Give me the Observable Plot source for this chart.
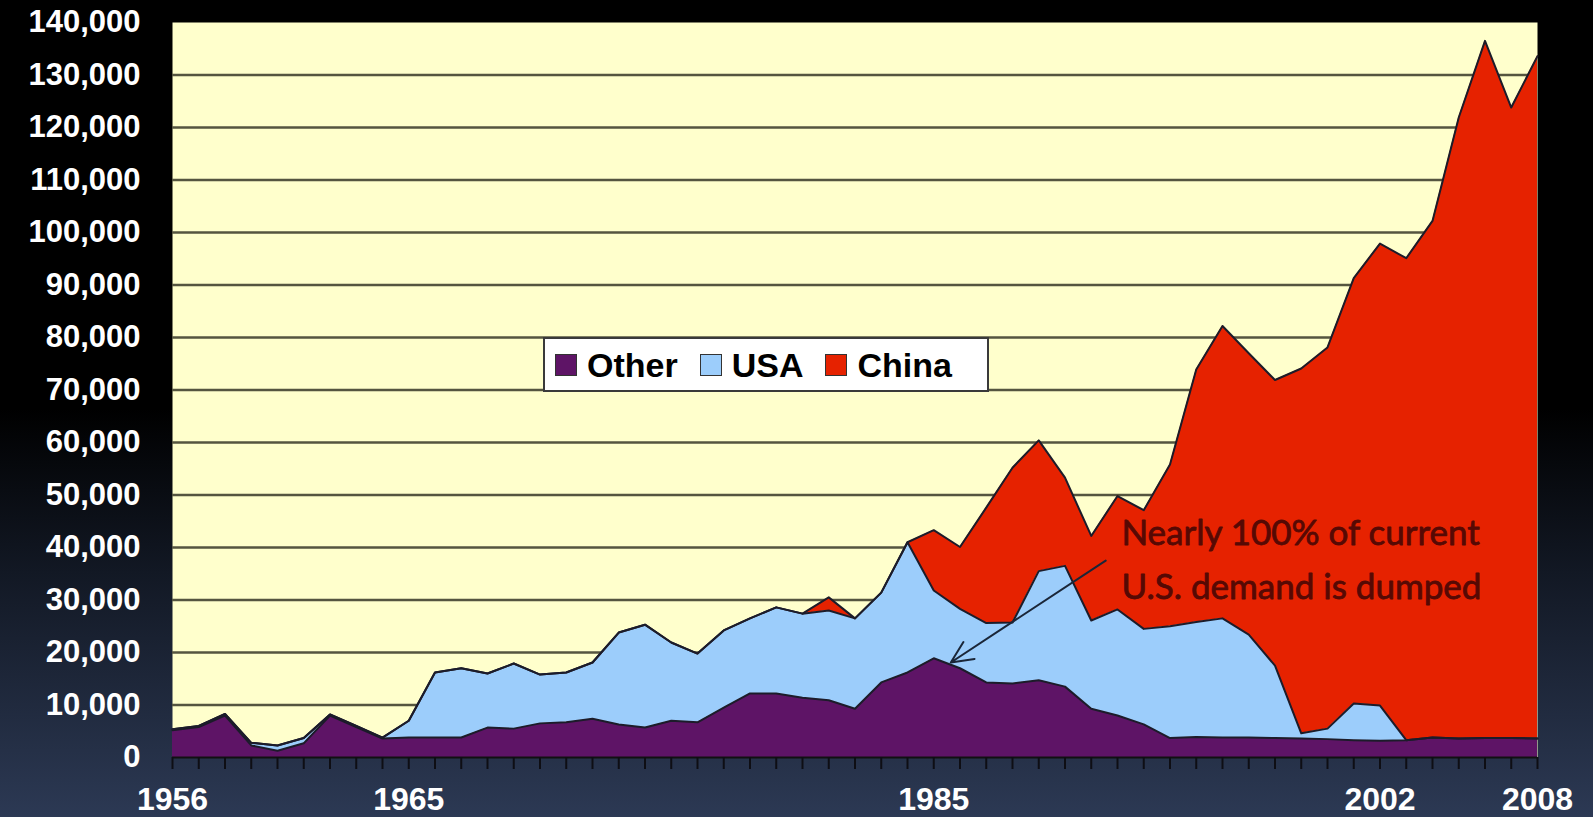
<!DOCTYPE html>
<html><head><meta charset="utf-8">
<script src="https://cdn.jsdelivr.net/npm/d3@7"></script>
<script src="https://cdn.jsdelivr.net/npm/@observablehq/plot@0.6"></script>
<style>
html,body{margin:0;padding:0;}
body{width:1593px;height:817px;overflow:hidden;position:relative;
  background:linear-gradient(to bottom,#000 0%,#000 50%,#121824 70%,#2c3954 100%);
  font-family:"Liberation Sans",Arial,sans-serif;}
#chart{position:absolute;left:0;top:0;}
#legend{position:absolute;left:543px;top:337px;width:432px;height:51px;background:#fff;border:2px solid #3a3a3a;
  display:flex;align-items:center;padding-left:10px;box-sizing:content-box;}
.item{display:flex;align-items:center;margin-right:22px;}
.sw{width:22px;height:22px;border:1px solid #333;box-sizing:border-box;margin-right:10px;}
.lab{font-weight:bold;font-size:34px;line-height:34px;color:#000;white-space:nowrap;}
</style></head><body>
<div id="chart"></div>
<div id="legend"></div>
<script>
const years = [1956,1957,1958,1959,1960,1961,1962,1963,1964,1965,1966,1967,1968,1969,1970,1971,1972,1973,1974,1975,
  1976,1977,1978,1979,1980,1981,1982,1983,1984,1985,1986,1987,1988,1989,1990,1991,1992,1993,1994,1995,
  1996,1997,1998,1999,2000,2001,2002,2003,2004,2005,2006,2007,2008];
const other = [5200,5800,8000,2300,1300,2700,8000,5800,3600,3800,3800,3800,5700,5500,6500,6700,7400,6300,5700,7000,
  6700,9500,12200,12200,11400,10900,9300,14300,16200,18900,17000,14300,14100,14700,13500,9300,8000,6300,3700,3900,
  3800,3800,3700,3600,3500,3300,3200,3300,3800,3600,3700,3700,3600];
const usa = [200,200,300,500,1000,1000,200,200,200,3200,12400,13200,10300,12400,9300,9500,10700,17500,19600,14900,
  13100,14700,14300,16400,16000,17100,17200,17100,24800,12900,11300,11300,11600,20800,23000,16800,20200,18200,21300,21900,
  22700,19600,13800,1000,2000,7000,6700,0,0,0,0,0,0];
const china = [0,0,0,0,0,0,0,0,0,0,0,0,0,0,0,0,0,0,0,0,
  0,0,0,0,0,2500,0,0,0,11500,11800,22000,29500,24900,16800,16100,21600,22600,30800,48100,
  55700,53600,54400,69500,72600,81000,88000,91800,98400,118300,132800,120100,130000];
const seriesNames = ["Other","USA","China"];
const seriesColors = ["#5e1466","#9ccdfb","#e62200"];
const yTicks = [0,10000,20000,30000,40000,50000,60000,70000,80000,90000,100000,110000,120000,130000,140000];
const xLabelYears = [1956,1965,1985,2002,2008];
const noteLines = ["Nearly 100% of current","U.S. demand is dumped"];
const noteYears = [1992.15,1992.15];
const noteValues = [40400,30100];
const arrowFrom = {year:1991.55, value:37500};
const arrowTo = {year:1985.65, value:18100};

const seriesValues = [other, usa, china];
const table = [];
seriesNames.forEach((s, k) => years.forEach((y, i) => table.push({year: y, series: s, value: seriesValues[k][i]})));
const notes = noteLines.map((t, i) => ({text: t, year: noteYears[i], value: noteValues[i]}));

const chart = Plot.plot({
  width: 1593, height: 817,
  marginLeft: 172, marginRight: 56, marginTop: 22, marginBottom: 60,
  style: {background: "transparent", overflow: "visible", fontFamily: "Liberation Sans, Arial, sans-serif"},
  x: {domain: [1956, 2008]},
  y: {domain: [0, 140000]},
  color: {domain: seriesNames, range: seriesColors},
  marks: [
    Plot.frame({fill: "#ffffcc", stroke: null}),
    Plot.ruleY(yTicks.filter(d => d > 0 && d < 140000), {stroke: "#55553f", strokeWidth: 2.5}),
    Plot.areaY(table, {x: "year", y: "value", z: "series", fill: "series", order: seriesNames}),
    Plot.lineY(table, Plot.stackY2({x: "year", y: "value", z: "series", order: seriesNames, stroke: "#1c1c2a", strokeWidth: 2})),
    Plot.ruleY([0], {stroke: "#111", strokeWidth: 2}),
    Plot.axisY(yTicks, {label: null, tickSize: 0, tickPadding: 32, tickFormat: d3.format(","), fill: "white", fontSize: 31, fontWeight: "bold", letterSpacing: 1.5}),
    Plot.axisX(years, {label: null, tickSize: 12, tickFormat: () => "", stroke: "#0e0e14", strokeWidth: 2}),
    Plot.axisX(xLabelYears, {label: null, tickSize: 0, tickPadding: 30, tickFormat: "d", fill: "white", fontSize: 32, fontWeight: "bold"}),
    Plot.arrow([{a: arrowFrom, b: arrowTo}], {x1: d => d.a.year, y1: d => d.a.value, x2: d => d.b.year, y2: d => d.b.value,
      stroke: "#1a2638", strokeWidth: 2, headLength: 18, headAngle: 50}),
    Plot.text(notes, {x: "year", y: "value", text: "text", textAnchor: "start", lineAnchor: "bottom",
      fontSize: 35, fontFamily: "Lato", fill: "#560904", stroke: "#560904", strokeWidth: 0.8})
  ]
});
document.getElementById("chart").appendChild(chart);

const legend = document.getElementById("legend");
seriesNames.forEach((s, i) => {
  const item = document.createElement("div"); item.className = "item";
  const sw = document.createElement("div"); sw.className = "sw"; sw.style.background = seriesColors[i];
  const lab = document.createElement("span"); lab.className = "lab"; lab.textContent = s;
  item.appendChild(sw); item.appendChild(lab); legend.appendChild(item);
});
</script>
</body></html>
